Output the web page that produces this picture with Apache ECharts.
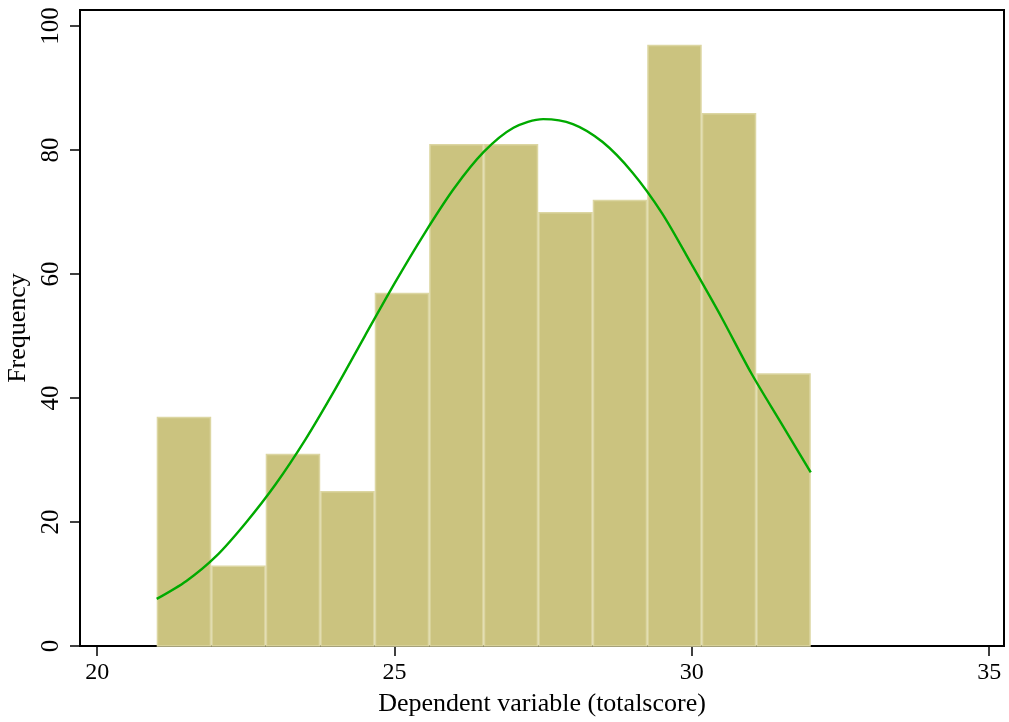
<!DOCTYPE html>
<html>
<head>
<meta charset="utf-8">
<script src="https://cdn.jsdelivr.net/npm/echarts@6/dist/echarts.min.js"></script>
<style>html,body{margin:0;padding:0;background:#fff}#c{width:1009px;height:722px}</style>
</head>
<body>
<div id="c"></div>
<script>
// Histogram: bins span 21 to 32, 12 equal-width bins
const binStart = 21;
const binEnd = 32;
const counts = [37, 13, 31, 25, 57, 81, 81, 70, 72, 97, 86, 44];
// Normal density overlay (x, frequency)
const curveX = [21, 21.5, 22, 22.5, 23, 23.5, 24, 24.5, 25, 25.5, 26, 26.5, 27, 27.5, 28, 28.5, 29, 29.5, 30, 30.5, 31, 31.5, 32];
const curveY = [7.6, 10.5, 14.5, 19.9, 26.1, 33.3, 41.4, 50.0, 58.5, 66.5, 73.8, 79.7, 83.6, 85.0, 84.2, 81.3, 76.4, 69.8, 61.5, 53.0, 44.0, 36.0, 28.0];
const xTicks = [20, 25, 30, 35];
const yTicks = [0, 20, 40, 60, 80, 100];

const binW = (binEnd - binStart) / counts.length;
const barData = counts.map((c, i) => [binStart + i * binW, binStart + (i + 1) * binW, c]);
const lineData = curveX.map((x, i) => [x, curveY[i]]);

const FONT = 'Liberation Serif';
const chart = echarts.init(document.getElementById('c'), null, {renderer: 'canvas'});
chart.setOption({
  backgroundColor: '#ffffff',
  animation: false,
  grid: {left: 80, right: 5, top: 10, bottom: 76, outerBoundsMode: 'none', containLabel: false, show: true, borderColor: '#000', borderWidth: 2, backgroundColor: 'transparent'},
  xAxis: {
    type: 'value', min: 19.71, max: 35.25,
    name: 'Dependent variable (totalscore)', nameLocation: 'middle', nameGap: 45,
    nameTextStyle: {fontFamily: FONT, fontSize: 26, color: '#000'},
    axisLine: {show: true, onZero: false, lineStyle: {color: '#000', width: 2}},
    axisTick: {show: true, length: 10, inside: false, customValues: xTicks, lineStyle: {color: '#000', width: 1.5}},
    axisLabel: {customValues: xTicks, margin: 15, fontFamily: FONT, fontSize: 24, color: '#000'},
    splitLine: {show: false}
  },
  yAxis: {
    type: 'value', min: 0, max: 102.6,
    name: 'Frequency', nameLocation: 'middle', nameGap: 48,
    nameTextStyle: {fontFamily: FONT, fontSize: 26, color: '#000'},
    axisLine: {show: true, lineStyle: {color: '#000', width: 2}},
    axisTick: {show: true, length: 10, customValues: yTicks, lineStyle: {color: '#000', width: 1.5}},
    axisLabel: {customValues: yTicks, rotate: 90, margin: 16, fontFamily: FONT, fontSize: 25, color: '#000'},
    splitLine: {show: false}
  },
  series: [
    {
      type: 'custom',
      data: barData,
      encode: {x: [0, 1], y: 2},
      renderItem: function (params, api) {
        const p0 = api.coord([api.value(0), api.value(2)]);
        const p1 = api.coord([api.value(1), 0]);
        return {
          type: 'rect',
          shape: {x: p0[0] + 0.75, y: p0[1] + 0.75, width: p1[0] - p0[0] - 1.5, height: p1[1] - p0[1] - 0.75},
          style: {fill: '#CBC37F', stroke: '#DCD6A2', lineWidth: 1.5}
        };
      },
      z: 2
    },
    {
      type: 'line',
      data: lineData,
      smooth: 0.3,
      showSymbol: false,
      lineStyle: {color: '#00AA00', width: 2.4},
      z: 3
    }
  ]
});
</script>
</body>
</html>
